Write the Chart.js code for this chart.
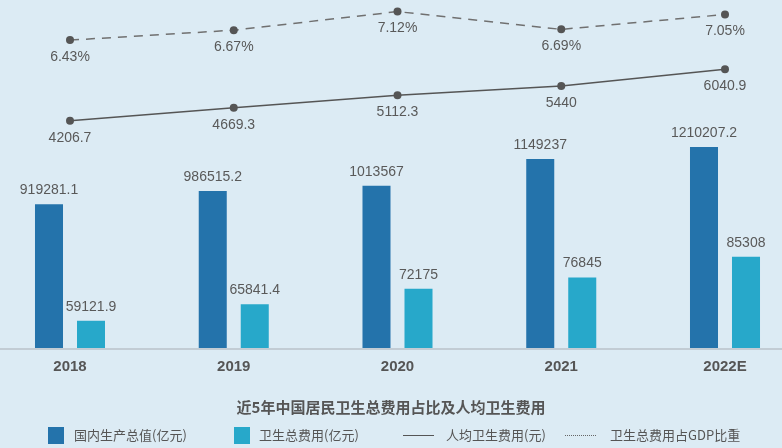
<!DOCTYPE html>
<html>
<head>
<meta charset="utf-8">
<script src="https://cdn.jsdelivr.net/npm/chart.js@4.4.0/dist/chart.umd.min.js"></script>
<style>
  html, body { margin: 0; padding: 0; background: #dcebf4; }
  #wrap { position: relative; width: 782px; height: 448px; overflow: hidden; font-family: "Noto Sans CJK SC", "Liberation Sans", sans-serif; }
  #chart { position: absolute; left: 0; top: 0; }
  .title { position: absolute; top: 396px; left: 0; width: 782px; text-align: center; font-size: 15px; font-weight: bold; color: #555; }
  .item { position: absolute; top: 426px; height: 18px; line-height: 18px; font-size: 13px; color: #555; white-space: nowrap; }
  .box { position: absolute; top: 427px; width: 16px; height: 17px; }
  .ln { position: absolute; top: 435px; width: 31px; height: 0; }
</style>
</head>
<body>
<div id="wrap">
  <canvas id="chart" width="782" height="448"></canvas>
  <div class="title">近5年中国居民卫生总费用占比及人均卫生费用</div>
  <div class="box" style="left:48px;background:#2473ab"></div>
  <div class="item" style="left:74px">国内生产总值(亿元)</div>
  <div class="box" style="left:234px;background:#27a8ca"></div>
  <div class="item" style="left:259px">卫生总费用(亿元)</div>
  <div class="ln" style="left:403px;border-top:1.5px solid #555"></div>
  <div class="item" style="left:446px">人均卫生费用(元)</div>
  <div class="ln" style="left:565px;border-top:1.5px dotted #666"></div>
  <div class="item" style="left:610px">卫生总费用占GDP比重</div>
</div>
<script>
// chart data
const years = ['2018', '2019', '2020', '2021', '2022E'];
const gdp = [919281.1, 986515.2, 1013567, 1149237, 1210207.2];
const healthSpend = [59121.9, 65841.4, 72175, 76845, 85308];
const perCapita = [4206.7, 4669.3, 5112.3, 5440, 6040.9];
const gdpShare = [6.43, 6.67, 7.12, 6.69, 7.05];

// hidden axis ranges (the bars do not start from zero in the original)
const gdpAxis = { min: 186700, max: 1938900 };
const healthAxis = { min: 48000, max: 188500 };
const perAxis = { min: -3906, max: 8369 };
const shareAxis = { min: -1.021, max: 7.304 };

// value labels above bars, below line points
const valueLabels = {
    id: 'valueLabels',
    afterDatasetsDraw(chart) {
        const ctx = chart.ctx;
        ctx.save();
        ctx.font = '14px "Liberation Sans", Arial, sans-serif';
        ctx.fillStyle = '#595959';
        ctx.textAlign = 'center';
        ctx.textBaseline = 'middle';
        chart.data.datasets.forEach((ds, i) => {
            const meta = chart.getDatasetMeta(i);
            meta.data.forEach((el, j) => {
                const v = ds.data[j];
                const text = ds.suffix ? v + ds.suffix : String(v);
                const y = ds.type === 'line' ? el.y + 17 : el.y - 14;
                ctx.fillText(text, el.x, y);
            });
        });
        ctx.restore();
    }
};

// grey baseline across the whole width
const baseline = {
    id: 'baseline',
    afterDatasetsDraw(chart) {
        const ctx = chart.ctx;
        const y = chart.chartArea.bottom + 1;
        ctx.save();
        ctx.strokeStyle = '#c2ccd4';
        ctx.lineWidth = 2;
        ctx.beginPath();
        ctx.moveTo(0, y);
        ctx.lineTo(chart.width, y);
        ctx.stroke();
        ctx.restore();
    }
};

const ctx = document.getElementById('chart').getContext('2d');
new Chart(ctx, {
    type: 'bar',
    data: {
        labels: years,
        datasets: [
            {
                type: 'line',
                label: '卫生总费用占GDP比重',
                data: gdpShare,
                suffix: '%',
                yAxisID: 'yShare',
                borderColor: '#707070',
                borderWidth: 1.5,
                borderDash: [9, 7],
                pointRadius: 4,
                pointBackgroundColor: '#555',
                pointBorderWidth: 0,
                clip: false
            },
            {
                type: 'line',
                label: '人均卫生费用(元)',
                data: perCapita,
                yAxisID: 'yPer',
                borderColor: '#555',
                borderWidth: 1.5,
                pointRadius: 4,
                pointBackgroundColor: '#555',
                pointBorderWidth: 0,
                clip: false
            },
            {
                label: '国内生产总值(亿元)',
                data: gdp,
                yAxisID: 'yGdp',
                base: gdpAxis.min,
                backgroundColor: '#2473ab',
                categoryPercentage: 0.513,
                barPercentage: 0.667,
                clip: false
            },
            {
                label: '卫生总费用(亿元)',
                data: healthSpend,
                yAxisID: 'yHealth',
                base: healthAxis.min,
                backgroundColor: '#27a8ca',
                categoryPercentage: 0.513,
                barPercentage: 0.667,
                clip: false
            }
        ]
    },
    options: {
        responsive: false,
        animation: false,
        layout: { padding: { left: 70, right: 57, top: 0, bottom: 62 } },
        scales: {
            x: {
                offset: false,
                grid: { display: false, drawTicks: false },
                border: { display: false },
                ticks: {
                    color: '#555',
                    padding: 10,
                    maxRotation: 0,
                    autoSkip: false,
                    font: { family: '"Liberation Sans", Arial, sans-serif', size: 15, weight: 'bold' }
                }
            },
            yGdp: { display: false, min: gdpAxis.min, max: gdpAxis.max },
            yHealth: { display: false, min: healthAxis.min, max: healthAxis.max },
            yPer: { display: false, min: perAxis.min, max: perAxis.max },
            yShare: { display: false, min: shareAxis.min, max: shareAxis.max }
        },
        plugins: {
            legend: { display: false },
            tooltip: { enabled: false }
        }
    },
    plugins: [baseline, valueLabels]
});
</script>
</body>
</html>
